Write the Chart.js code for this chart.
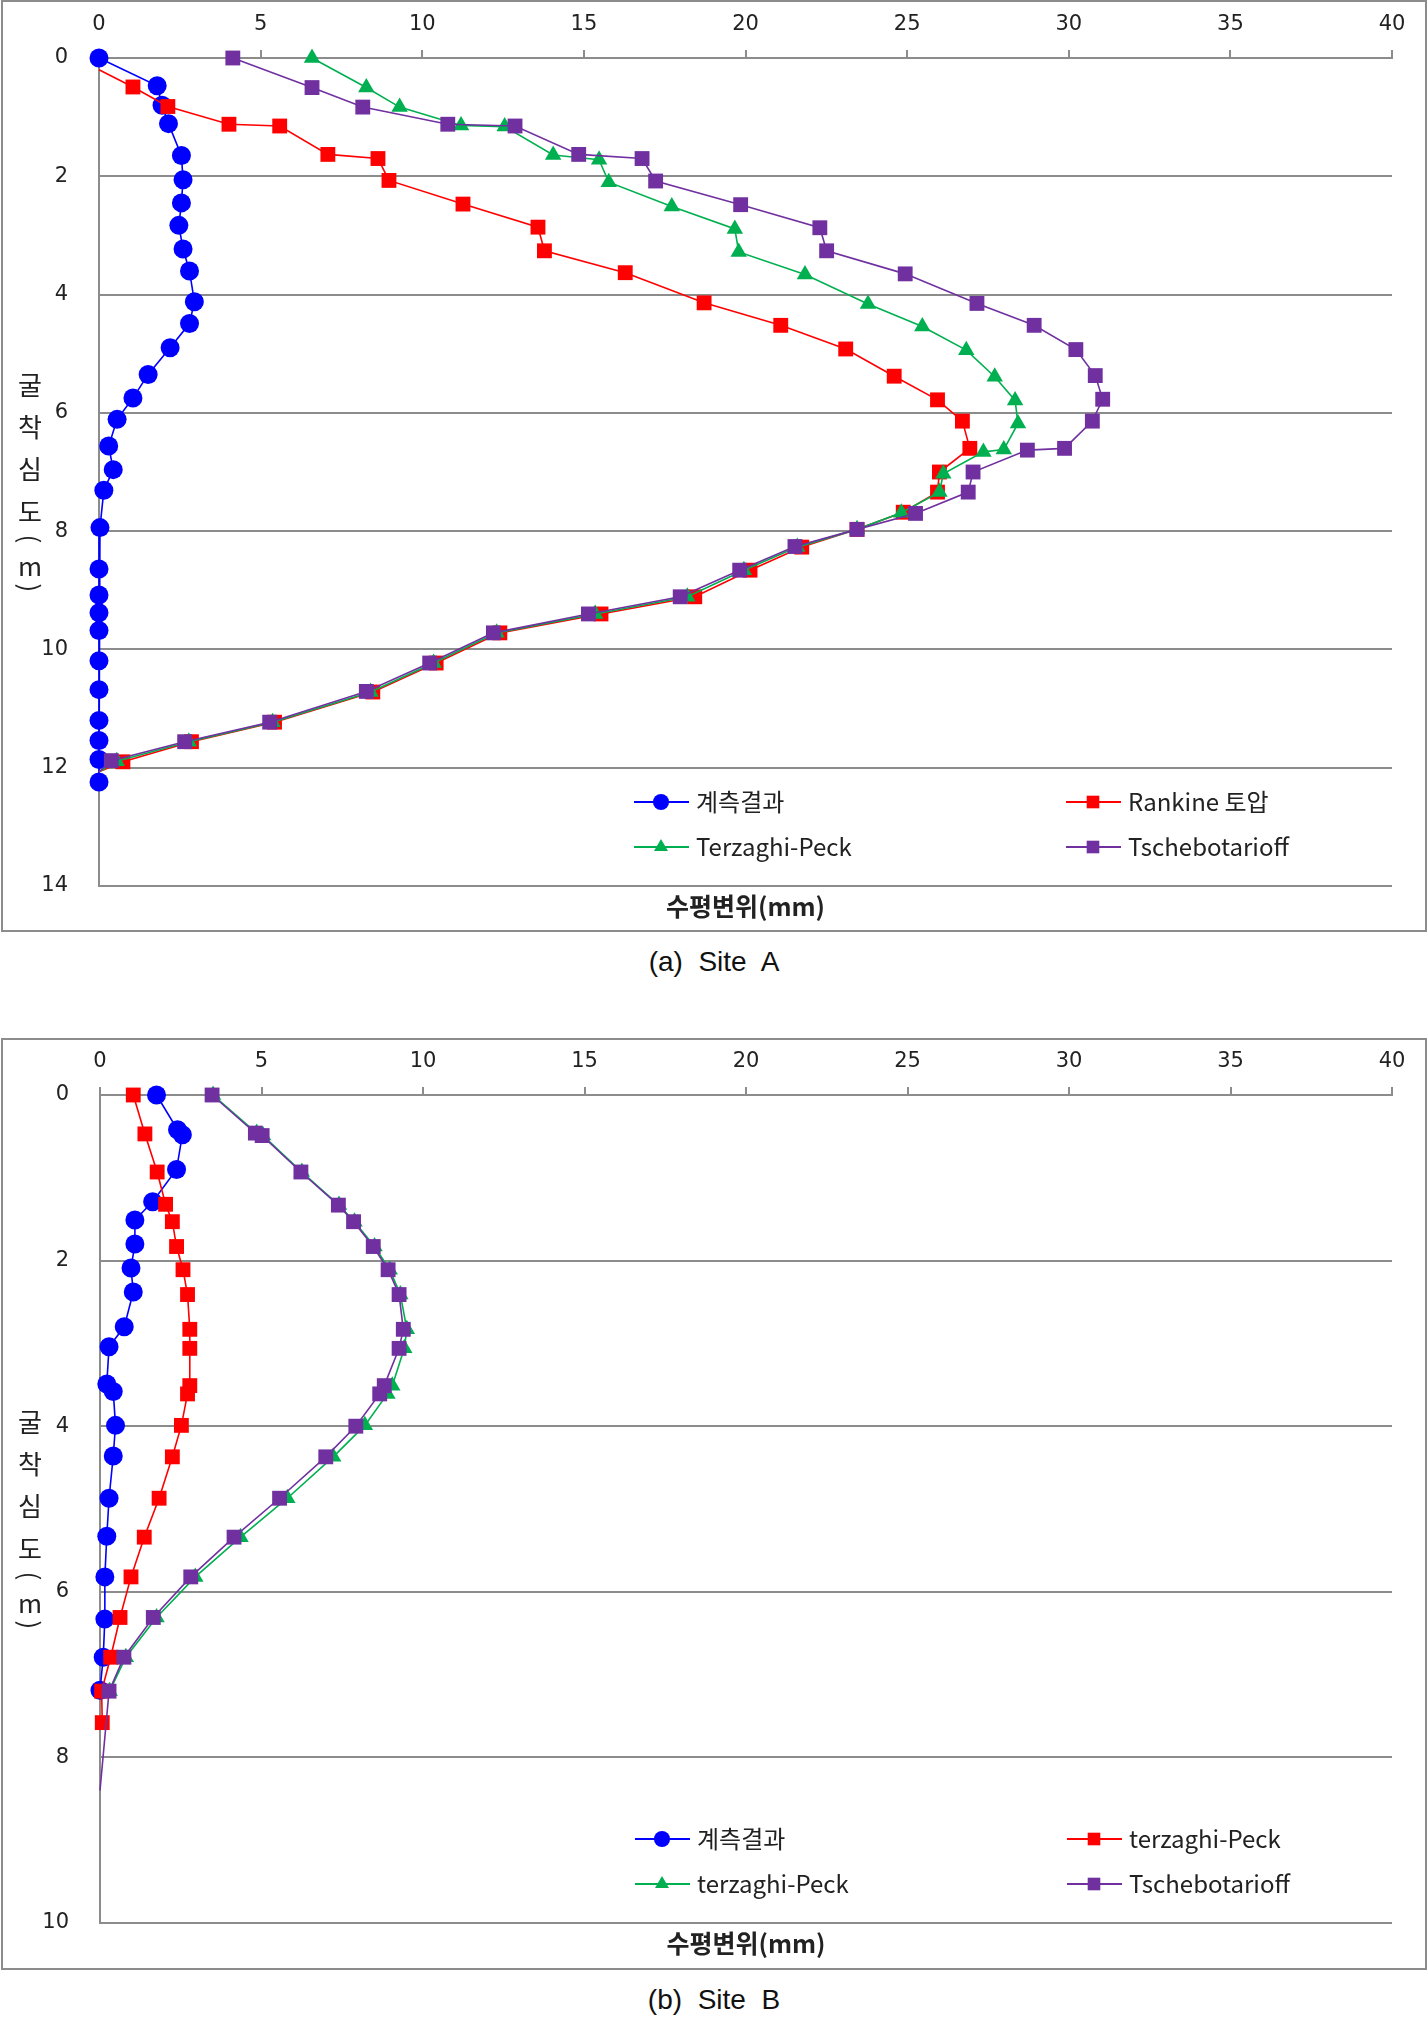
<!DOCTYPE html>
<html>
<head>
<meta charset="utf-8">
<script src="https://cdn.jsdelivr.net/npm/chart.js"></script>
<style>
  body { margin: 0; background: #fff; width: 1428px; height: 2019px; position: relative; }
  .panel { position: absolute; left: 1px; width: 1426px; height: 932px; box-sizing: border-box; border: 2px solid #8c8c8c; background: #fff; }
  .panel canvas { display: block; }
  .caption { position: absolute; left: 0; width: 1428px; text-align: center; font-family: "Liberation Sans", Arial, sans-serif;
             font-size: 28px; line-height: 34px; color: #111; white-space: pre; }
</style>
</head>
<body>
<div class="panel" style="top:0px;"><canvas id="chartA" width="1422" height="928"></canvas></div>
<div class="caption" style="top:945px;">(a)  Site  A</div>
<div class="panel" style="top:1038px;"><canvas id="chartB" width="1422" height="928"></canvas></div>
<div class="caption" style="top:1983px;">(b)  Site  B</div>

<script>
// ---- Site A (굴착심도 m / 수평변위 mm) ----
var siteA_measured_depth = [0, 0.47, 0.8, 1.11, 1.65, 2.06, 2.45, 2.83, 3.23, 3.6, 4.12, 4.49, 4.9, 5.35, 5.75, 6.11, 6.56, 6.96, 7.31, 7.94, 8.64, 9.08, 9.38, 9.68, 10.19, 10.68, 11.2, 11.54, 11.86, 12.24];
var siteA_measured_disp  = [0, 1.8, 1.95, 2.15, 2.55, 2.6, 2.55, 2.47, 2.6, 2.8, 2.95, 2.8, 2.2, 1.52, 1.05, 0.56, 0.3, 0.44, 0.15, 0.03, 0, 0, 0, 0, 0, 0, 0, 0, 0, 0];

var siteA_rankine_depth = [0.2, 0.49, 0.82, 1.12, 1.15, 1.63, 1.7, 2.07, 2.47, 2.86, 3.26, 3.63, 4.14, 4.52, 4.92, 5.38, 5.78, 6.14, 6.6, 7.0, 7.34, 7.68, 7.97, 8.27, 8.66, 9.11, 9.4, 9.72, 10.23, 10.72, 11.23, 11.56, 11.9, 12.07];
var siteA_rankine_disp  = [0, 1.05, 2.13, 4.02, 5.59, 7.08, 8.63, 8.97, 11.26, 13.58, 13.78, 16.28, 18.72, 21.09, 23.1, 24.6, 25.94, 26.71, 26.94, 26.0, 25.94, 24.88, 23.45, 21.74, 20.14, 18.43, 15.53, 12.4, 10.43, 8.47, 5.43, 2.86, 0.74, 0];

var siteA_terzaghi_depth = [0, 0.5, 0.83, 1.14, 1.16, 1.64, 1.72, 2.1, 2.51, 2.89, 3.28, 3.66, 4.16, 4.54, 4.94, 5.39, 5.79, 6.18, 6.62, 6.66, 7.03, 7.34, 7.69, 7.97, 8.27, 8.66, 9.11, 9.4, 9.72, 10.23, 10.72, 11.23, 11.56, 11.89, 12.07];
var siteA_terzaghi_disp  = [6.59, 8.27, 9.3, 11.2, 12.55, 14.05, 15.47, 15.77, 17.72, 19.67, 19.79, 21.84, 23.79, 25.47, 26.83, 27.71, 28.34, 28.43, 27.99, 27.36, 26.12, 26.0, 24.82, 23.45, 21.6, 19.95, 18.2, 15.35, 12.3, 10.35, 8.4, 5.37, 2.78, 0.55, 0];

var siteA_tscheb_depth = [0, 0.5, 0.83, 1.12, 1.15, 1.63, 1.7, 2.08, 2.48, 2.87, 3.26, 3.65, 4.15, 4.52, 4.93, 5.37, 5.77, 6.14, 6.6, 6.63, 7.0, 7.34, 7.7, 7.97, 8.26, 8.66, 9.11, 9.4, 9.72, 10.23, 10.71, 11.23, 11.56, 11.88, 12.07];
var siteA_tscheb_disp  = [4.14, 6.59, 8.16, 10.79, 12.87, 14.84, 16.8, 17.22, 19.85, 22.3, 22.51, 24.94, 27.16, 28.93, 30.22, 30.82, 31.05, 30.73, 29.87, 28.72, 27.04, 26.89, 25.26, 23.45, 21.53, 19.82, 17.98, 15.14, 12.2, 10.23, 8.27, 5.28, 2.65, 0.38, 0];

// ---- Site B ----
var siteB_measured_depth = [0, 0.42, 0.48, 0.9, 1.29, 1.51, 1.8, 2.09, 2.38, 2.8, 3.04, 3.49, 3.58, 3.99, 4.36, 4.87, 5.33, 5.82, 6.33, 6.79, 7.19];
var siteB_measured_disp  = [1.75, 2.4, 2.55, 2.37, 1.63, 1.08, 1.08, 0.96, 1.03, 0.75, 0.28, 0.21, 0.41, 0.48, 0.41, 0.28, 0.21, 0.15, 0.15, 0.1, 0];

var siteB_red_depth = [0, 0.47, 0.93, 1.32, 1.53, 1.83, 2.11, 2.41, 2.83, 3.06, 3.51, 3.61, 3.99, 4.37, 4.87, 5.34, 5.82, 6.31, 6.79, 7.2, 7.58];
var siteB_red_disp  = [1.03, 1.39, 1.77, 2.03, 2.24, 2.37, 2.57, 2.71, 2.78, 2.78, 2.78, 2.71, 2.52, 2.24, 1.83, 1.37, 0.96, 0.62, 0.33, 0.05, 0.07];

var siteB_green_depth = [0, 0.46, 0.49, 0.93, 1.33, 1.53, 1.83, 2.11, 2.41, 2.83, 3.06, 3.51, 3.61, 3.99, 4.37, 4.87, 5.34, 5.82, 6.31, 6.79, 7.2];
var siteB_green_disp  = [3.5, 4.85, 5.05, 6.25, 7.4, 7.88, 8.5, 8.97, 9.3, 9.5, 9.42, 9.05, 8.9, 8.2, 7.22, 5.8, 4.35, 2.95, 1.75, 0.8, 0.3];

var siteB_tscheb_depth = [0, 0.46, 0.49, 0.93, 1.33, 1.53, 1.83, 2.11, 2.41, 2.83, 3.06, 3.51, 3.61, 4.0, 4.37, 4.87, 5.34, 5.82, 6.31, 6.79, 7.2, 8.4];
var siteB_tscheb_disp  = [3.47, 4.81, 5.02, 6.22, 7.38, 7.85, 8.46, 8.92, 9.26, 9.39, 9.26, 8.8, 8.66, 7.92, 6.99, 5.56, 4.15, 2.81, 1.65, 0.74, 0.28, 0];

var siteA_labels = ["계측결과", "Rankine 토압", "Terzaghi-Peck", "Tschebotarioff"];
var siteB_labels = ["계측결과", "terzaghi-Peck", "terzaghi-Peck", "Tschebotarioff"];

var xTicks = { min: 0, max: 40, step: 5 };
var yTitleChars = ["굴", "착", "심", "도", "(", "m", ")"];

var GRID = "#8c8c8c";
var TICK_FONT = "DejaVu Sans";
var KR_FONT = "Noto Sans CJK KR";

function pts(depth, disp) {
  return depth.map(function (d, i) { return { x: disp[i], y: d }; });
}

// marker size per point, 0 where the line runs on without a marker
function radii(n, r, bare) {
  var out = [];
  for (var i = 0; i < n; i++) out.push(bare.indexOf(i) >= 0 ? 0 : r);
  return out;
}

function series(label, data, color, style, r, bare, order) {
  return {
    label: label,
    data: data,
    showLine: true,
    clip: false,
    borderColor: color,
    backgroundColor: color,
    borderWidth: 1.6,
    pointStyle: style,
    pointRadius: radii(data.length, r, bare),
    pointHoverRadius: radii(data.length, r, bare),
    pointBorderWidth: 0,
    legendRadius: r * 0.85,
    order: order
  };
}

function drawMarker(ctx, style, x, y, r, color) {
  ctx.fillStyle = color;
  ctx.beginPath();
  if (style === "circle") {
    ctx.arc(x, y, r, 0, Math.PI * 2);
  } else if (style === "rect") {
    var s = r * Math.SQRT1_2;
    ctx.rect(x - s, y - s, 2 * s, 2 * s);
  } else {
    ctx.moveTo(x, y - r);
    ctx.lineTo(x + r * 0.866, y + r * 0.5);
    ctx.lineTo(x - r * 0.866, y + r * 0.5);
    ctx.closePath();
  }
  ctx.fill();
}

// legend sits inside the plot, under the curves (Excel style)
var insideLegend = {
  id: "insideLegend",
  afterDraw: function (chart) {
    var ctx = chart.ctx, a = chart.chartArea;
    var cols = [a.left + 535, a.left + 967];
    var rows = [a.top + 744, a.top + 789];
    chart.data.datasets.forEach(function (ds, i) {
      var x = cols[i % 2], y = rows[Math.floor(i / 2)];
      ctx.save();
      ctx.strokeStyle = ds.borderColor;
      ctx.lineWidth = 2;
      ctx.beginPath();
      ctx.moveTo(x, y);
      ctx.lineTo(x + 55, y);
      ctx.stroke();
      drawMarker(ctx, ds.pointStyle, x + 27, y, ds.legendRadius, ds.backgroundColor);
      ctx.fillStyle = "#222";
      ctx.font = "24px '" + KR_FONT + "'";
      ctx.textBaseline = "middle";
      ctx.textAlign = "left";
      ctx.fillText(ds.label, x + 62, y);
      ctx.restore();
    });
  }
};

// y axis title written top to bottom, one character per line
var stackedYTitle = {
  id: "stackedYTitle",
  afterDraw: function (chart) {
    var ctx = chart.ctx, a = chart.chartArea;
    var offs = [327, 369, 411, 454, 481, 508, 530];
    ctx.save();
    ctx.fillStyle = "#222";
    ctx.font = "26px '" + KR_FONT + "'";
    ctx.textAlign = "center";
    ctx.textBaseline = "middle";
    yTitleChars.forEach(function (c, i) {
      var y = a.top + offs[i];
      if (c === "(" || c === ")") {
        ctx.save();
        ctx.translate(27, y);
        ctx.rotate(Math.PI / 2);
        ctx.fillText(c, 0, 0);
        ctx.restore();
      } else {
        ctx.fillText(c, 27, y);
      }
    });
    ctx.restore();
  }
};

function makeChart(id, datasets, yMax, topH, bottomH, leftW, titlePad) {
  return new Chart(id, {
    type: "scatter",
    data: { datasets: datasets },
    plugins: [insideLegend, stackedYTitle],
    options: {
      responsive: false,
      devicePixelRatio: 1,
      animation: false,
      layout: { padding: { left: 0, right: 33, top: 0, bottom: 0 } },
      plugins: { legend: { display: false }, tooltip: { enabled: false } },
      scales: {
        x: {
          type: "linear",
          position: "top",
          min: xTicks.min,
          max: xTicks.max,
          ticks: { stepSize: xTicks.step, padding: 13, color: "#222", font: { family: TICK_FONT, size: 21 } },
          grid: { drawOnChartArea: false, color: GRID, lineWidth: 2, tickLength: 8 },
          border: { color: GRID, width: 2 },
          afterFit: function (s) { s.height = topH; }
        },
        x2: {
          type: "linear",
          position: "bottom",
          min: xTicks.min,
          max: xTicks.max,
          ticks: { display: false },
          grid: { display: false },
          border: { display: false },
          title: {
            display: true,
            text: "수평변위(mm)",
            color: "#222",
            font: { family: KR_FONT, size: 25, weight: "bold" },
            padding: { top: 0, bottom: titlePad }
          },
          afterFit: function (s) { s.height = bottomH; }
        },
        y: {
          type: "linear",
          reverse: true,
          min: 0,
          max: yMax,
          ticks: { stepSize: 2, padding: 31, color: "#222", font: { family: TICK_FONT, size: 21 } },
          grid: { color: GRID, lineWidth: 2, drawTicks: false },
          border: { color: GRID, width: 2 },
          afterFit: function (s) { s.width = leftW; }
        }
      }
    }
  });
}

var blue = "#0000ff", red = "#ff0000", green = "#00b050", purple = "#7030a0";

makeChart("chartA", [
  series(siteA_labels[0], pts(siteA_measured_depth, siteA_measured_disp), blue, "circle", 9.5, [], 4),
  series(siteA_labels[1], pts(siteA_rankine_depth, siteA_rankine_disp), red, "rect", 10.5, [0, siteA_rankine_depth.length - 1], 3),
  series(siteA_labels[2], pts(siteA_terzaghi_depth, siteA_terzaghi_disp), green, "triangle", 9.5, [siteA_terzaghi_depth.length - 1], 2),
  series(siteA_labels[3], pts(siteA_tscheb_depth, siteA_tscheb_disp), purple, "rect", 10.5, [siteA_tscheb_depth.length - 1], 1)
], 14, 56, 44, 96, 9);

makeChart("chartB", [
  series(siteB_labels[0], pts(siteB_measured_depth, siteB_measured_disp), blue, "circle", 9.5, [], 4),
  series(siteB_labels[1], pts(siteB_red_depth, siteB_red_disp), red, "rect", 10.5, [], 3),
  series(siteB_labels[2], pts(siteB_green_depth, siteB_green_disp), green, "triangle", 9.5, [], 2),
  series(siteB_labels[3], pts(siteB_tscheb_depth, siteB_tscheb_disp), purple, "rect", 10.5, [siteB_tscheb_depth.length - 1], 1)
], 10, 55, 45, 97, 10);
</script>
</body>
</html>
